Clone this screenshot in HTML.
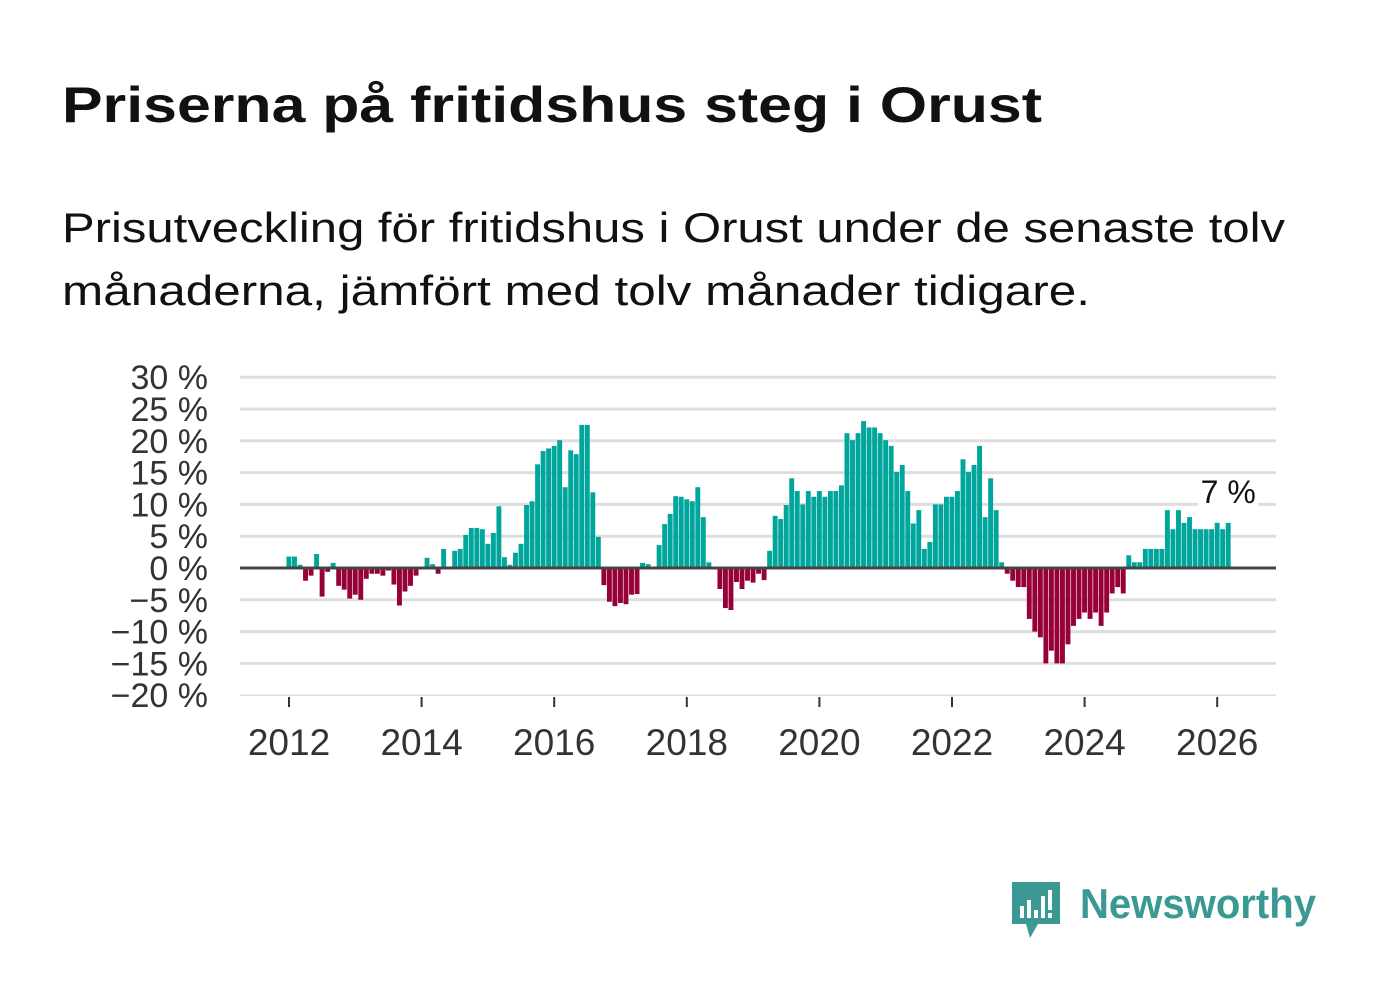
<!DOCTYPE html>
<html><head><meta charset="utf-8"><style>
html,body{margin:0;padding:0;background:#fff;}
svg{display:block;font-family:"Liberation Sans","DejaVu Sans",sans-serif;}
</style></head><body>
<svg id="chart" width="1382" height="999" viewBox="0 0 1382 999" xmlns="http://www.w3.org/2000/svg">
<text x="62" y="122" font-size="50" font-weight="bold" fill="#111" textLength="980" lengthAdjust="spacingAndGlyphs">Priserna på fritidshus steg i Orust</text>
<text x="62" y="242" font-size="42" fill="#111" textLength="1223" lengthAdjust="spacingAndGlyphs">Prisutveckling för fritidshus i Orust under de senaste tolv</text>
<text x="62" y="305" font-size="42" fill="#111" textLength="1028" lengthAdjust="spacingAndGlyphs">månaderna, jämfört med tolv månader tidigare.</text>
<g id="grid"></g><g id="bars"></g><g id="axes"></g>
<g>
<path d="M1012 882 h48 v42 h-22 l-8 14 l-4 -14 h-14 z" fill="#3a9a93"/>
<rect x="1020" y="906" width="4" height="12" fill="#fff"/><rect x="1027" y="900" width="4" height="18" fill="#fff"/><rect x="1034" y="910" width="4" height="8" fill="#fff"/><rect x="1041" y="896" width="4" height="22" fill="#fff"/><rect x="1048" y="890" width="4" height="20" fill="#fff"/><rect x="1048" y="913" width="4" height="5" fill="#fff"/>
<text x="1080" y="918" font-size="42" font-weight="bold" fill="#3a9a93" textLength="236" lengthAdjust="spacingAndGlyphs">Newsworthy</text>
</g>
</svg>
<script>
const values = [1.8,1.8,0.5,-2.0,-1.2,2.2,-4.5,-0.6,0.8,-2.8,-3.4,-4.8,
-4.2,-5.0,-1.7,-0.9,-0.9,-1.2,-0.4,-2.6,-5.9,-3.7,-2.8,-1.2,
0,1.6,0.6,-0.9,3.0,0,2.7,3.0,5.2,6.3,6.3,6.1,
3.8,5.5,9.7,1.7,0.5,2.4,3.8,9.9,10.5,16.3,18.4,18.8,
19.2,20.1,12.7,18.5,17.9,22.5,22.5,11.9,4.9,-2.7,-5.3,-6.0,
-5.5,-5.7,-4.2,-4.1,0.8,0.6,0,3.6,6.9,8.5,11.3,11.2,
10.8,10.5,12.7,8.0,0.9,0,-3.3,-6.3,-6.6,-2.2,-3.3,-2.0,
-2.3,-0.9,-1.9,2.7,8.2,7.7,9.9,14.1,12.1,10.0,12.1,11.2,
12.1,11.2,12.1,12.1,13.0,21.2,20.1,21.2,23.1,22.1,22.1,21.2,
20.1,19.2,15.1,16.2,12.1,7.0,9.1,3.0,4.1,10.0,10.0,11.2,
11.2,12.1,17.1,15.1,16.2,19.2,8.0,14.1,9.1,0.9,-0.9,-2.0,
-3.0,-3.0,-8.0,-10.0,-10.9,-15.0,-13.0,-15.0,-15.0,-12.0,-9.1,-8.0,
-7.0,-8.0,-7.0,-9.1,-7.0,-4.0,-3.0,-4.0,2.0,0.9,0.9,3.0,
3.0,3.0,3.0,9.1,6.1,9.1,7.1,8.0,6.1,6.1,6.1,6.1,
7.1,6.1,7.1];
const startYear = 2012;
const yTicks = [30,25,20,15,10,5,0,-5,-10,-15,-20];
const xTicks = [2012,2014,2016,2018,2020,2022,2024,2026];
const lastLabel = "7 %";

const NS="http://www.w3.org/2000/svg";
const X0=240,X1=1276;
const x=(i)=>289+i*5.525;
const xYear=(yr)=>289+(yr-startYear)*66.3;
const y=(v)=>568-v*6.36;
function mk(tag,attrs,parent,text){const e=document.createElementNS(NS,tag);for(const k in attrs)e.setAttribute(k,attrs[k]);if(text!==undefined)e.textContent=text;parent.appendChild(e);return e;}
const grid=document.getElementById('grid'),bars=document.getElementById('bars'),axes=document.getElementById('axes');
yTicks.forEach(t=>{
  const l=mk('line',{x1:X0,x2:X1,y1:y(t),y2:y(t),stroke:'#dedede','stroke-width':t===-20?1.5:3},grid);
  
  
  const lb=mk('text',{x:208,y:y(t)+12,'font-size':34,'text-anchor':'end',fill:'#333'},axes,(t<0?'\u2212'+(-t):t)+' %');
  
  
});
values.forEach((v,i)=>{
  if(v===0)return;
  const r=mk('rect',{x:x(i)-2.5,width:4.9,y:v>0?y(v):y(0),height:Math.abs(y(v)-y(0)),fill:v>0?'#00a59b':'#970038'},bars);
  
  
});
const z=mk('line',{x1:X0,x2:X1,y1:y(0),y2:y(0),stroke:'#444','stroke-width':3},axes);


xTicks.forEach(yr=>{
  const t=mk('line',{x1:xYear(yr),x2:xYear(yr),y1:697,y2:707,stroke:'#333','stroke-width':2},axes);
  
  
  const lb=mk('text',{x:xYear(yr),y:755,'font-size':37,'text-anchor':'middle',fill:'#333'},axes,String(yr));
  
  
});
const li=values.length-1;
const bg=mk('rect',{x:x(li)-30,y:475,width:60,height:34,fill:'#fff',rx:4},axes);


const lab=mk('text',{x:x(li),y:503,'font-size':32,'text-anchor':'middle',fill:'#111'},axes,lastLabel);


</script>
</body></html>
